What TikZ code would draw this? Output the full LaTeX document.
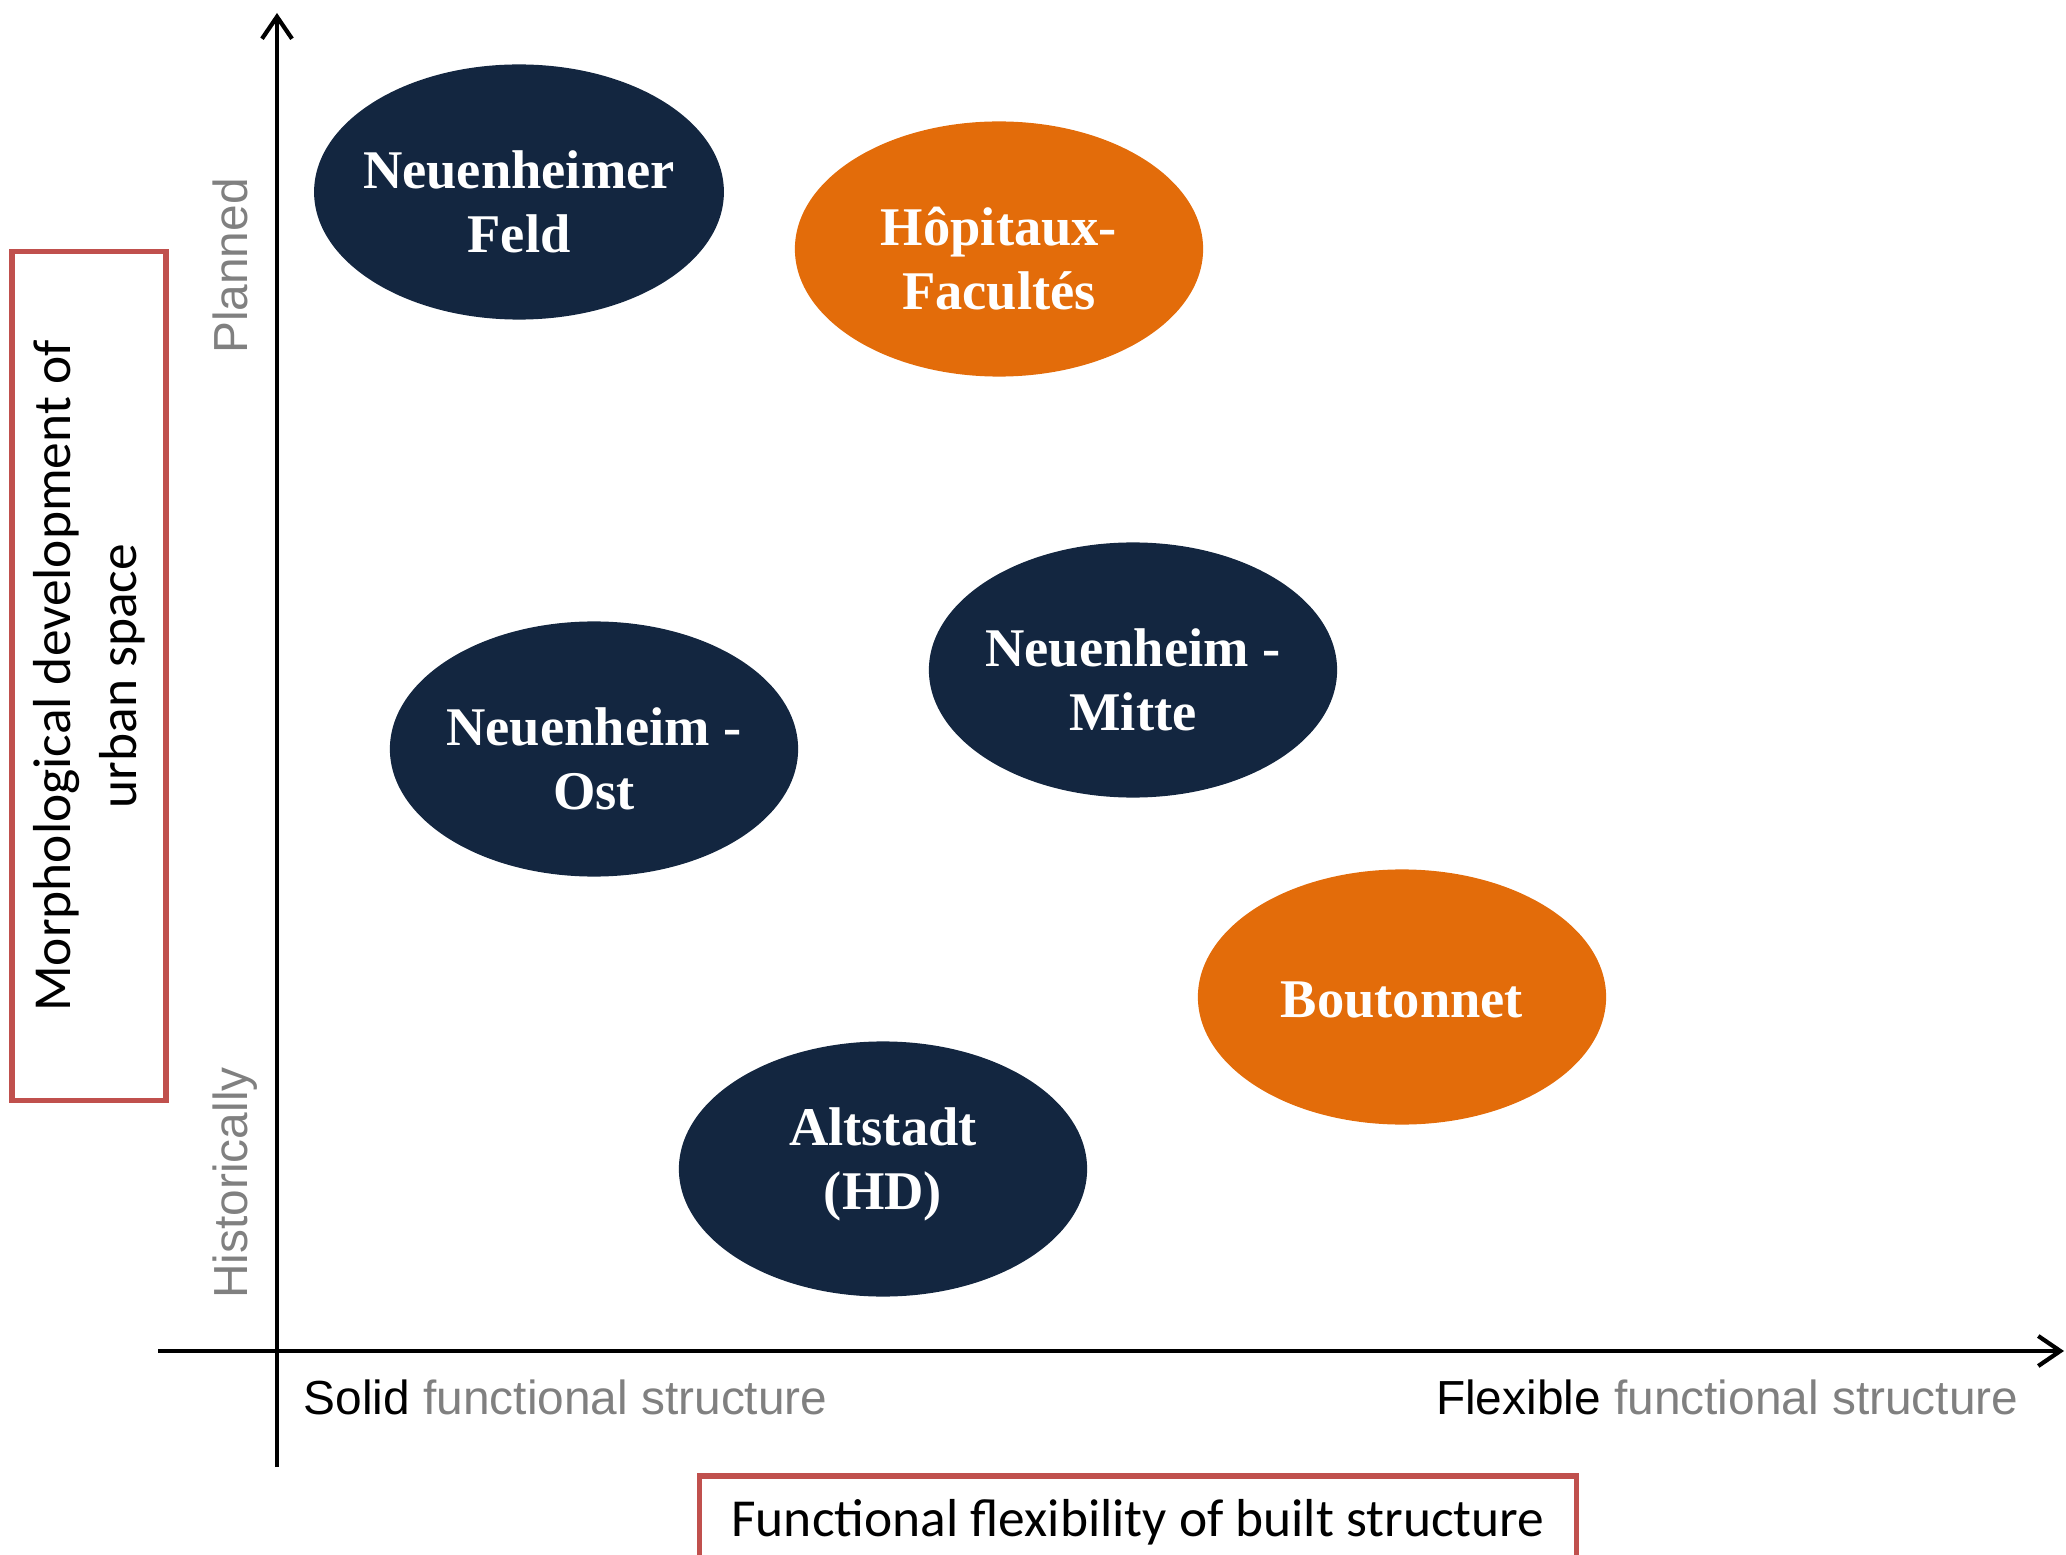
\documentclass[tikz,border=0pt]{standalone}
\usepackage{fontspec}
\setmainfont{Liberation Serif}
\setsansfont{Liberation Sans}
\newfontfamily\carlito{Carlito}
\usetikzlibrary{shapes.geometric,arrows.meta}

\definecolor{navy}{RGB}{19,38,64}
\definecolor{ochre}{RGB}{227,108,10}
\definecolor{boxred}{RGB}{192,80,77}
\definecolor{poletext}{RGB}{128,128,128}

\tikzset{
  area/.style={ellipse, minimum width=4.08cm, minimum height=2.55cm, inner ysep=0pt, inner xsep=-0.11cm,
    text=white, align=center, font=\fontsize{15.5}{18.3}\selectfont\bfseries,
    text height=34.6pt, text depth=0pt},
  heidelberg/.style={area, fill=navy},
  montpellier/.style={area, fill=ochre},
  axis/.style={line width=1.2pt, -{Straight Barb[length=2.2mm,width=3mm]}},
  dimbox/.style={draw=boxred, line width=1.5pt, inner sep=0pt, align=center,
    font=\carlito\fontsize{15.2}{18.7}\selectfont},
  pole/.style={inner sep=0pt, text=poletext, font=\sffamily\fontsize{13.6}{16}\selectfont}
}

\begin{document}
\begin{tikzpicture}[x=0.01cm, y=-0.01cm]
\useasboundingbox (0,0) rectangle (2066,1555);

% axes
\coordinate (ybot) at (277,1467);
\coordinate (ytop) at (277,13);
\coordinate (xleft) at (158,1351);
\coordinate (xright) at (2064,1351);
\draw[axis] (ybot) -- (ytop);
\draw[axis] (xleft) -- (xright);

% districts
\node[heidelberg] (NF) at (519,192) {Neuenheimer\\Feld};
\node[montpellier] (HF) at (999,249) {Hôpitaux-\\Facultés};
\node[heidelberg] (NO) at (594,749) {Neuenheim -\\Ost};
\node[heidelberg] (NM) at (1133,670) {Neuenheim -\\Mitte};
\node[montpellier, text height=11.7pt] (BT) at (1402,997) {Boutonnet};
\node[heidelberg, text height=23pt] (AS) at (883,1169) {Altstadt\\(HD)};

% poles of the axes
\node[pole, rotate=90, anchor=base] (planned) at (247,266) {Planned};
\node[pole, rotate=90, anchor=base] (hist) at (247,1183) {Historically};
\node[pole, anchor=base west] (solid) at (303,1414) {\textcolor{black}{Solid} functional structure};
\node[pole, anchor=base east] (flex) at (2019,1414) {\textcolor{black}{Flexible} functional structure};

% axis titles
\node[dimbox, rotate=90, minimum width=8.48cm, minimum height=1.54cm] (ytitle) at (89,676)
  {Morphological development of\\urban space};
\node[dimbox, minimum width=8.77cm, minimum height=0.92cm] (xtitle) at (1138,1522)
  {Functional flexibility of built structure};
\end{tikzpicture}
\end{document}
